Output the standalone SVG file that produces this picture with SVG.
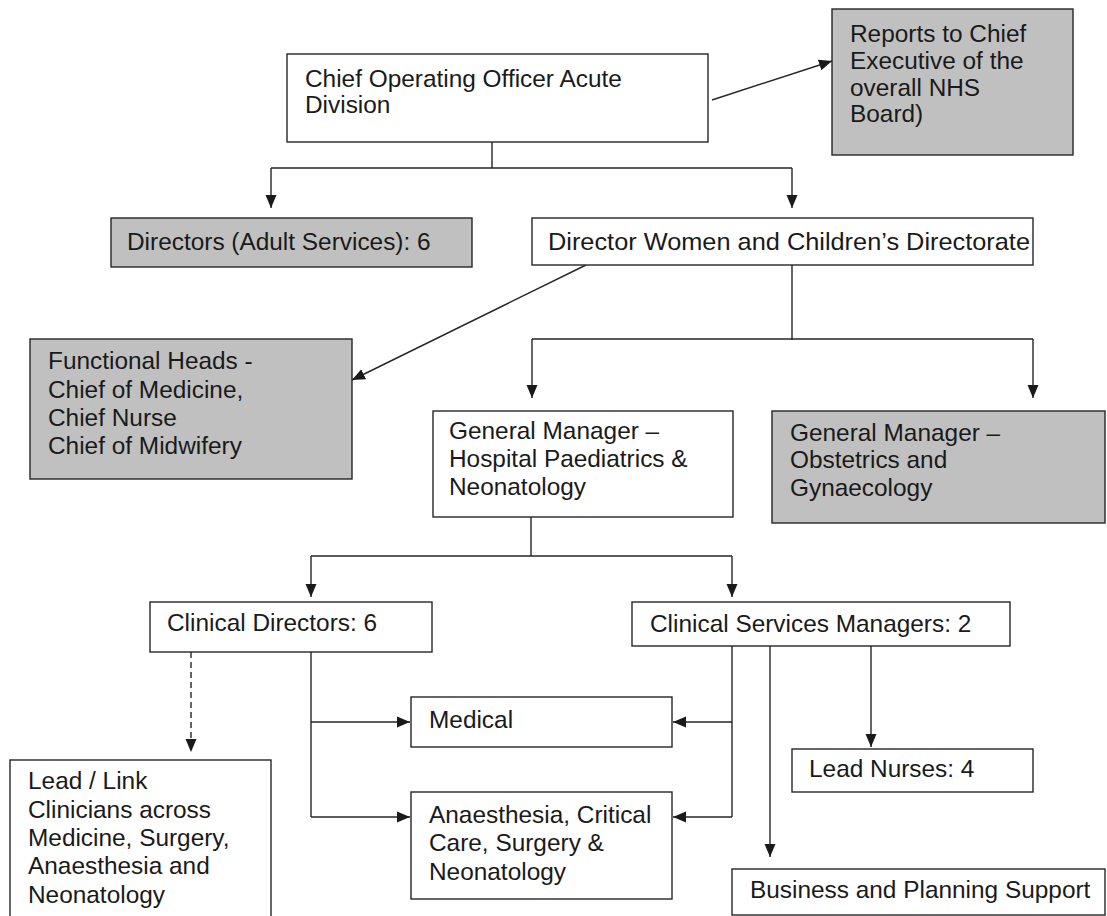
<svg xmlns="http://www.w3.org/2000/svg" width="1107" height="916" viewBox="0 0 1107 916">
<style>
  .box { fill: #ffffff; stroke: #262626; stroke-width: 1.4; }
  .grey { fill: #c0c0c0; }
  text { font-family: "Liberation Sans", Arial, sans-serif; font-size: 24.4px; fill: #1a1a1a; }
  .conn { fill: none; stroke: #262626; stroke-width: 1.4; }
  .dash { stroke-dasharray: 6 4; }
</style>
<defs>
  <marker id="arr" markerUnits="userSpaceOnUse" markerWidth="14" markerHeight="12" refX="13" refY="6" orient="auto">
    <path d="M0,0.5 L13,6 L0,11.5 z" fill="#1a1a1a"/>
  </marker>
</defs>
<rect width="1107" height="916" fill="#ffffff"/>

<g id="connectors">
  <line class="conn" x1="712" y1="100" x2="832" y2="61" marker-end="url(#arr)"/>
  <path class="conn" d="M492,142 V168 M271,168 H792"/>
  <path class="conn" d="M271,168 V208" marker-end="url(#arr)"/>
  <path class="conn" d="M792,168 V208" marker-end="url(#arr)"/>
  <line class="conn" x1="586" y1="265" x2="352" y2="380" marker-end="url(#arr)"/>
  <path class="conn" d="M792,265 V340 M532,339 H1033"/>
  <path class="conn" d="M532,339 V398" marker-end="url(#arr)"/>
  <path class="conn" d="M1033,339 V398" marker-end="url(#arr)"/>
  <path class="conn" d="M531,517 V556 M311,556 H732"/>
  <path class="conn" d="M311,556 V597" marker-end="url(#arr)"/>
  <path class="conn" d="M732,556 V597" marker-end="url(#arr)"/>
  <path class="conn dash" d="M191,652 V752" marker-end="url(#arr)"/>
  <path class="conn" d="M311,652 V817"/>
  <path class="conn" d="M311,722 H410" marker-end="url(#arr)"/>
  <path class="conn" d="M311,817 H410" marker-end="url(#arr)"/>
  <path class="conn" d="M732,646 V817"/>
  <path class="conn" d="M732,722 H673" marker-end="url(#arr)"/>
  <path class="conn" d="M732,817 H673" marker-end="url(#arr)"/>
  <path class="conn" d="M770,644 V857" marker-end="url(#arr)"/>
  <path class="conn" d="M871,646 V747" marker-end="url(#arr)"/>
</g>

<g id="coo">
  <rect class="box" x="287" y="54" width="421" height="88"/>
  <text x="305" y="87">Chief Operating Officer Acute</text>
  <text x="305" y="113">Division</text>
</g>
<g id="reports">
  <rect class="box grey" x="832" y="9" width="241" height="146"/>
  <text x="850" y="42">Reports to Chief</text>
  <text x="850" y="69">Executive of the</text>
  <text x="850" y="96">overall NHS</text>
  <text x="850" y="122">Board)</text>
</g>
<g id="directors-adult">
  <rect class="box grey" x="111" y="218" width="361" height="49"/>
  <text x="127" y="250">Directors (Adult Services): 6</text>
</g>
<g id="director-wc">
  <rect class="box" x="532" y="218" width="501" height="47"/>
  <text x="548" y="250" textLength="482" lengthAdjust="spacingAndGlyphs">Director Women and Children’s Directorate</text>
</g>
<g id="functional-heads">
  <rect class="box grey" x="30" y="339" width="322" height="140"/>
  <text x="48" y="369">Functional Heads -</text>
  <text x="48" y="398">Chief of Medicine,</text>
  <text x="48" y="426">Chief Nurse</text>
  <text x="48" y="454">Chief of Midwifery</text>
</g>
<g id="gm-paeds">
  <rect class="box" x="433" y="411" width="300" height="106"/>
  <text x="449" y="439">General Manager –</text>
  <text x="449" y="467">Hospital Paediatrics &amp;</text>
  <text x="449" y="495">Neonatology</text>
</g>
<g id="gm-obs">
  <rect class="box grey" x="772" y="411" width="333" height="112"/>
  <text x="790" y="441">General Manager –</text>
  <text x="790" y="468">Obstetrics and</text>
  <text x="790" y="496">Gynaecology</text>
</g>
<g id="clinical-directors">
  <rect class="box" x="150" y="602" width="282" height="50"/>
  <text x="167" y="631">Clinical Directors: 6</text>
</g>
<g id="csm">
  <rect class="box" x="632" y="602" width="378" height="44"/>
  <text x="650" y="632">Clinical Services Managers: 2</text>
</g>
<g id="lead-link">
  <rect class="box" x="10" y="760" width="261" height="180"/>
  <text x="28" y="789">Lead / Link</text>
  <text x="28" y="818">Clinicians across</text>
  <text x="28" y="846">Medicine, Surgery,</text>
  <text x="28" y="874">Anaesthesia and</text>
  <text x="28" y="903">Neonatology</text>
</g>
<g id="medical">
  <rect class="box" x="411" y="697" width="261" height="50"/>
  <text x="429" y="728">Medical</text>
</g>
<g id="anaesthesia">
  <rect class="box" x="411" y="792" width="261" height="107"/>
  <text x="429" y="823">Anaesthesia, Critical</text>
  <text x="429" y="851">Care, Surgery &amp;</text>
  <text x="429" y="880">Neonatology</text>
</g>
<g id="lead-nurses">
  <rect class="box" x="792" y="749" width="241" height="43"/>
  <text x="809" y="777">Lead Nurses: 4</text>
</g>
<g id="business">
  <rect class="box" x="732" y="869" width="373" height="46"/>
  <text x="750" y="898">Business and Planning Support</text>
</g>
</svg>
